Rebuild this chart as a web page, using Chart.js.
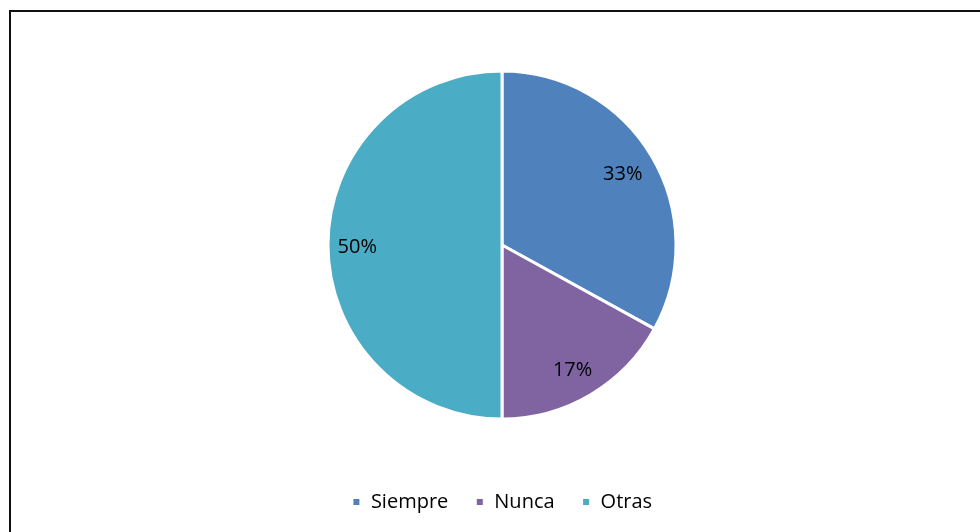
<!DOCTYPE html>
<html>
<head>
<meta charset="utf-8">
<script src="https://cdn.jsdelivr.net/npm/chart.js@4/dist/chart.umd.min.js"></script>
<style>
  html, body { margin: 0; padding: 0; background: #fff; }
  #wrap { width: 980px; height: 532px; }
</style>
</head>
<body>
<div id="wrap"><canvas id="myChart" width="980" height="532"></canvas></div>
<script>
const labels = ['Siempre', 'Nunca', 'Otras'];
const values = [33, 17, 50];
const colors = ['#4F81BD', '#8064A2', '#4BACC6'];

// black frame around the chart (runs off right and bottom edges)
const framePlugin = {
  id: 'frame',
  beforeDraw(chart) {
    const ctx = chart.ctx;
    ctx.save();
    ctx.fillStyle = '#fff';
    ctx.fillRect(0, 0, chart.width, chart.height);
    ctx.strokeStyle = '#111';
    ctx.lineWidth = 2;
    ctx.strokeRect(10, 11, 1000, 600);
    ctx.restore();
  }
};

// percentage labels inside the slices
const pctPlugin = {
  id: 'pct',
  afterDatasetsDraw(chart) {
    const ctx = chart.ctx;
    const meta = chart.getDatasetMeta(0);
    ctx.save();
    ctx.font = '20px "Open Sans"';
    ctx.fillStyle = '#000';
    ctx.textAlign = 'center';
    ctx.textBaseline = 'middle';
    meta.data.forEach((arc, i) => {
      const p = arc.getProps(['x', 'y', 'startAngle', 'endAngle', 'outerRadius'], true);
      const mid = (p.startAngle + p.endAngle) / 2;
      const r = p.outerRadius * 0.82;
      ctx.fillText(values[i] + '%', p.x + Math.cos(mid) * r - 2, p.y + Math.sin(mid) * r + 2);
    });
    ctx.restore();
  }
};

const data = {
  labels: labels,
  datasets: [{
    data: values,
    backgroundColor: colors,
    borderColor: '#fff',
    borderWidth: 3,
  }]
};

const config = {
  type: 'pie',
  data: data,
  options: {
    responsive: false,
    animation: false,
    radius: 174,
    layout: {
      padding: { top: 25, left: 24, right: 0, bottom: 10 }
    },
    plugins: {
      legend: {
        position: 'bottom',
        labels: {
          boxWidth: 9,
          boxHeight: 9,
          padding: 27,
          color: '#000',
          font: { family: 'Open Sans', size: 20 }
        }
      },
      tooltip: { enabled: false }
    }
  },
  plugins: [framePlugin, pctPlugin]
};

const myChart = new Chart(
  document.getElementById('myChart'),
  config
);
</script>
</body>
</html>
